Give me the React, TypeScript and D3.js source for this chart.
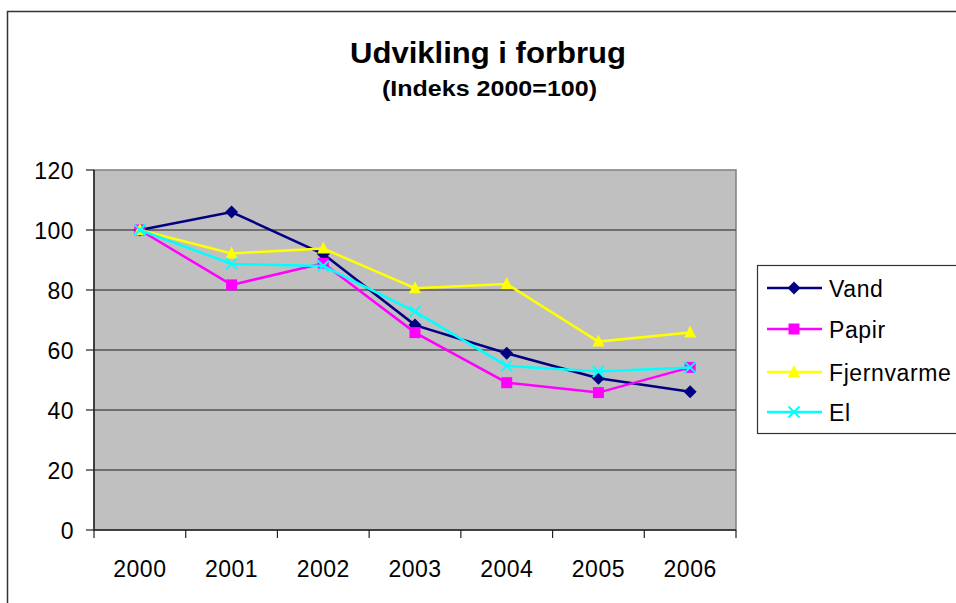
import React from 'react';
import * as d3 from 'd3';

const YEARS = ['2000', '2001', '2002', '2003', '2004', '2005', '2006'];
const VAND = [100, 106, 92, 68.3, 58.9, 50.6, 46.1];
const PAPIR = [100, 81.7, 88.9, 65.8, 49.1, 45.8, 54.2];
const FJERNVARME = [100, 92.2, 93.8, 80.6, 82, 62.8, 65.8];
const EL = [100, 88.7, 88, 72.8, 54.7, 52.8, 54.2];
const Y_TICKS = [0, 20, 40, 60, 80, 100, 120];

const SERIES = [
    { name: 'Vand', values: VAND, color: '#000080', marker: 'diamond' },
    { name: 'Papir', values: PAPIR, color: '#FF00FF', marker: 'square' },
    { name: 'Fjernvarme', values: FJERNVARME, color: '#FFFF00', marker: 'triangle' },
    { name: 'El', values: EL, color: '#00FFFF', marker: 'x' },
];

const FONT = '"Liberation Sans", Arial, sans-serif';

const Marker: React.FC<{ type: string; x: number; y: number; color: string }> = ({ type, x, y, color }) => {
    if (type === 'diamond') {
        const r = 6.5;
        return <path d={`M${x},${y - r}L${x + r},${y}L${x},${y + r}L${x - r},${y}Z`} fill={color} />;
    }
    if (type === 'square') {
        return <rect x={x - 5.5} y={y - 5.5} width={11} height={11} fill={color} />;
    }
    if (type === 'triangle') {
        return <path d={`M${x},${y - 7}L${x + 6},${y + 5}L${x - 6},${y + 5}Z`} fill={color} />;
    }
    const r = 5.5;
    return (
        <path d={`M${x - r},${y - r}L${x + r},${y + r}M${x - r},${y + r}L${x + r},${y - r}`}
            stroke={color} strokeWidth={2} fill="none" />
    );
};

const App: React.FC = () => {
    const width = 956;
    const height = 603;
    const plot = { left: 94, top: 170, right: 736, bottom: 530 };

    const xScale = d3.scaleBand().domain(YEARS).range([plot.left, plot.right]);
    const yScale = d3.scaleLinear().domain([0, 120]).range([plot.bottom, plot.top]);
    const cx = (yr: string) => (xScale(yr) || 0) + xScale.bandwidth() / 2;

    const line = d3.line<number>()
        .x((_, i) => cx(YEARS[i]))
        .y(d => yScale(d));

    const legendRows = [288, 329, 372, 412];

    return (
        <svg width={width} height={height} style={{ position: 'absolute', left: 0, top: 0 }} fontFamily={FONT}>
            <rect x={0} y={0} width={width} height={height} fill="#fff" />
            <rect x={7.5} y={11.5} width={width + 20} height={height + 20} fill="#fff" stroke="#333" strokeWidth={1.5} />

            <text x={350} y={63} fontSize="30px" fontWeight="bold" textLength={276} lengthAdjust="spacingAndGlyphs">Udvikling i forbrug</text>
            <text x={382} y={96} fontSize="22px" fontWeight="bold" textLength={215} lengthAdjust="spacingAndGlyphs">(Indeks 2000=100)</text>

            <rect x={plot.left} y={plot.top} width={plot.right - plot.left} height={plot.bottom - plot.top}
                fill="#C0C0C0" stroke="#808080" strokeWidth={1.5} />

            {Y_TICKS.map(t => (
                <g key={t}>
                    {t > 0 && t < 120 && (
                        <line x1={plot.left} x2={plot.right} y1={yScale(t)} y2={yScale(t)} stroke="#555" strokeWidth={1.5} />
                    )}
                    <line x1={plot.left - 8} x2={plot.left} y1={yScale(t)} y2={yScale(t)} stroke="#222" strokeWidth={1.2} />
                    <text x={74} y={yScale(t) + 1} textAnchor="end" dominantBaseline="central" fontSize="23px" letterSpacing={0.5}>{t}</text>
                </g>
            ))}

            <line x1={plot.left} x2={plot.left} y1={plot.top} y2={plot.bottom} stroke="#222" strokeWidth={1.5} />
            <line x1={plot.left} x2={plot.right} y1={plot.bottom} y2={plot.bottom} stroke="#222" strokeWidth={1.5} />

            {[...YEARS.map(y => xScale(y) || 0), plot.right].map((x, i) => (
                <line key={i} x1={x} x2={x} y1={plot.bottom} y2={plot.bottom + 8} stroke="#222" strokeWidth={1.2} />
            ))}
            {YEARS.map(yr => (
                <text key={yr} x={cx(yr)} y={577} textAnchor="middle" fontSize="23px" letterSpacing={0.5}>{yr}</text>
            ))}

            {SERIES.map(s => (
                <g key={s.name}>
                    <path d={line(s.values) || ''} fill="none" stroke={s.color} strokeWidth={2.5} />
                    {s.values.map((v, i) => (
                        <Marker key={i} type={s.marker} x={cx(YEARS[i])} y={yScale(v)} color={s.color} />
                    ))}
                </g>
            ))}

            <rect x={757.5} y={265.5} width={220} height={168} fill="#fff" stroke="#333" strokeWidth={1.2} />
            {SERIES.map((s, i) => (
                <g key={s.name}>
                    <line x1={767} x2={822} y1={legendRows[i]} y2={legendRows[i]} stroke={s.color} strokeWidth={2.5} />
                    <Marker type={s.marker} x={794} y={legendRows[i]} color={s.color} />
                    <text x={829} y={legendRows[i] + 1} dominantBaseline="central" fontSize="23px" letterSpacing={0.6}>{s.name}</text>
                </g>
            ))}
        </svg>
    );
};

export default App;
